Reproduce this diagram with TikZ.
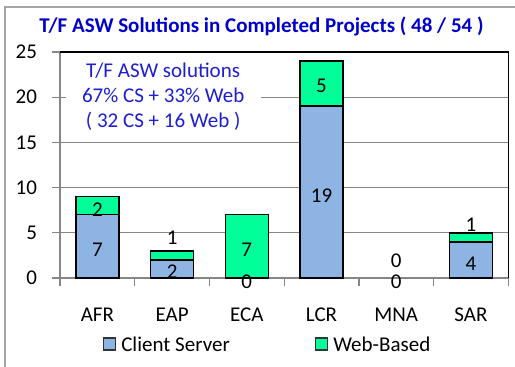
\documentclass[tikz,border=0pt]{standalone}
\usepackage{fontspec}
\setmainfont{Carlito}
\usetikzlibrary{positioning}
\definecolor{csblue}{RGB}{142,180,227}
\definecolor{webgreen}{RGB}{0,255,153}
\definecolor{titleblue}{RGB}{0,0,204}
\definecolor{noteblue}{RGB}{30,30,210}
\definecolor{gridgrey}{RGB}{134,134,134}
\definecolor{framegrey}{RGB}{165,165,165}
\tikzset{
	csbar/.style={draw=black, line width=1.5pt, fill=csblue},
	webbar/.style={draw=black, line width=1.5pt, fill=webgreen},
	gridline/.style={gridgrey, line width=1.3pt},
	txt/.style={inner sep=0pt, font=\fontsize{21}{25}\selectfont},
	datalabel/.style={txt},
	axislabel/.style={txt, anchor=east},
	catlabel/.style={txt},
	legbox/.style={draw=black!80, line width=1.2pt, minimum size=12pt, inner sep=0pt}
}
\begin{document}
\begin{tikzpicture}[x=1pt, y=1pt]
			%%%%% START %%%%%
			\useasboundingbox (0,0) rectangle (515,367);
			
			% chart frame
			\draw[framegrey, line width=1.5pt] (5,-10) |- (530,360);
			
			\node[txt, font=\fontsize{21}{25}\selectfont\bfseries, text=titleblue] (title) at (261.5,340.3) {T/F ASW Solutions in Completed Projects ( 48 / 54 )};
			
			\begin{scope}[shift={(60,89)}, x=74.72pt, y=9.04pt]
				% grid and axes
				\draw[gridline] (-0.107,5) -- (6,5);
				\draw[gridline] (-0.107,10) -- (6,10);
				\draw[gridline] (-0.107,15) -- (6,15);
				\draw[gridline] (-0.107,20) -- (6,20);
				\draw[gridline] (-0.107,0) -- (0,0);
				\draw[gridline] (-0.107,25) -- (0,25);
				\draw[gridline] (0,0) -- (0,25);
				\draw[gridline] (0,0) -- (6,0);
				\foreach \t in {0,...,6}
					\draw[gridline] (\t,0) -- (\t,-0.885);
				\draw[black, line width=1.5pt] (0,25) -- (6,25) -- (6,0);
				
				% note
				\node[txt, fill=white, align=center, text=noteblue, minimum width=195pt, inner ysep=4pt] (note) at (1.381,20.02) {T/F ASW solutions\\67\% CS + 33\% Web\\( 32 CS + 16 Web )};
				
				% bars
				\draw[csbar] (0.212,0) rectangle (0.788,7);
				\draw[webbar] (0.212,7) rectangle (0.788,9);
				\draw[csbar] (1.212,0) rectangle (1.788,2);
				\draw[webbar] (1.212,2) rectangle (1.788,3);
				\draw[webbar] (2.212,0) rectangle (2.788,7);
				\draw[csbar] (3.212,0) rectangle (3.788,19);
				\draw[webbar] (3.212,19) rectangle (3.788,24);
				\draw[csbar] (5.212,0) rectangle (5.788,4);
				\draw[webbar] (5.212,4) rectangle (5.788,5);
				
				% values
				\node[datalabel] (afrCS) at (0.5,3.1) {7};
				\node[datalabel] (afrWeb) at (0.5,7.6) {2};
				\node[datalabel] (eapCS) at (1.5,0.65) {2};
				\node[datalabel] (eapWeb) at (1.5,4.4) {1};
				\node[datalabel] (ecaCS) at (2.5,-0.38) {0};
				\node[datalabel] (ecaWeb) at (2.5,3.1) {7};
				\node[datalabel] (lcrCS) at (3.5,9.15) {19};
				\node[datalabel] (lcrWeb) at (3.5,21.3) {5};
				\node[datalabel] (mnaCS) at (4.5,-0.4) {0};
				\node[datalabel] (mnaWeb) at (4.5,1.95) {0};
				\node[datalabel] (sarCS) at (5.5,1.55) {4};
				\node[datalabel] (sarWeb) at (5.5,5.86) {1};
				
				% axis labels
				\node[axislabel] (y0) at (-0.305,0) {0};
				\node[axislabel] (y5) at (-0.305,5) {5};
				\node[axislabel] (y10) at (-0.305,10) {10};
				\node[axislabel] (y15) at (-0.305,15) {15};
				\node[axislabel] (y20) at (-0.305,20) {20};
				\node[axislabel] (y25) at (-0.305,25) {25};
				
				\node[catlabel] (afr) at (0.5,-4.1) {AFR};
				\node[catlabel] (eap) at (1.5,-4.1) {EAP};
				\node[catlabel] (eca) at (2.5,-4.1) {ECA};
				\node[catlabel] (lcr) at (3.5,-4.1) {LCR};
				\node[catlabel] (mna) at (4.5,-4.1) {MNA};
				\node[catlabel] (sar) at (5.5,-4.1) {SAR};
			\end{scope}
			
			% legend
			\node[legbox, fill=csblue] (keyCS) at (109.5,23) {};
			\node[txt, right=5pt of keyCS] (legCS) {Client Server};
			\node[legbox, fill=webgreen] (keyWeb) at (321.5,23) {};
			\node[txt, right=5pt of keyWeb] (legWeb) {Web-Based};
			
			%%%%% END %%%%%
		\end{tikzpicture}
\end{document}
